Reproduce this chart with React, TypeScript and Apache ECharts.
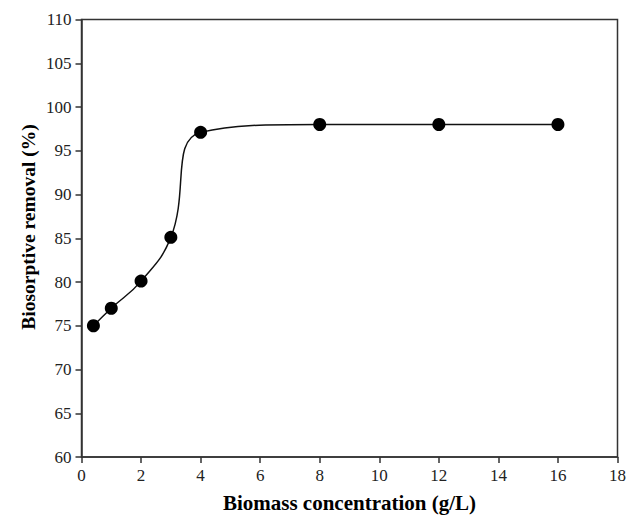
import React, { useEffect, useRef } from "react";
import * as echarts from "echarts";

const xValues = [0.4, 1, 2, 3, 4, 8, 12, 16];
const yValues = [75, 77, 80.1, 85.1, 97.1, 98, 98, 98];
const xAxisTitle = "Biomass concentration (g/L)";
const yAxisTitle = "Biosorptive removal (%)";

export default function App() {
  const ref = useRef<HTMLDivElement>(null);
  useEffect(() => {
    if (!ref.current) return;
    const chart = echarts.init(ref.current, null, { renderer: "svg" });
    const font = "'Liberation Serif', 'Times New Roman', serif";
    chart.setOption({
      animation: false,
      backgroundColor: "#fff",
      grid: {
        left: 73.5,
        right: 2,
        top: 11.5,
        bottom: 49,
        show: true,
        borderColor: "#333",
        borderWidth: 1.5,
        backgroundColor: "transparent",
      },
      graphic: [
        {
          type: "text",
          x: 20,
          y: 219,
          rotation: Math.PI / 2,
          style: {
            text: yAxisTitle,
            fontFamily: font,
            fontSize: 19.5,
            fontWeight: "bold",
            fill: "#000",
            textAlign: "center",
            textVerticalAlign: "middle",
          },
        },
      ],
      xAxis: {
        type: "value",
        min: 0,
        max: 18,
        interval: 2,
        name: xAxisTitle,
        nameLocation: "middle",
        nameGap: 35,
        nameTextStyle: { fontFamily: font, fontSize: 21, fontWeight: "bold", color: "#000" },
        axisLine: { show: true, lineStyle: { color: "#333", width: 1.5 } },
        axisTick: { show: true, inside: false, length: 6, lineStyle: { color: "#333", width: 1.5 } },
        axisLabel: { fontFamily: font, fontSize: 17, color: "#222", margin: 10 },
        splitLine: { show: false },
      },
      yAxis: {
        type: "value",
        min: 60,
        max: 110,
        interval: 5,
        axisLine: { show: true, lineStyle: { color: "#333", width: 1.5 } },
        axisTick: { show: true, inside: false, length: 6, lineStyle: { color: "#333", width: 1.5 } },
        axisLabel: { fontFamily: font, fontSize: 17, color: "#222", margin: 10 },
        splitLine: { show: false },
      },
      series: [
        {
          type: "line",
          data: xValues.map((x, i) => [x, yValues[i]]),
          smooth: 0.45,
          symbol: "circle",
          symbolSize: 13,
          itemStyle: { color: "#000" },
          lineStyle: { color: "#111", width: 1.5 },
        },
      ],
    });
    return () => chart.dispose();
  }, []);
  return <div ref={ref} style={{ width: 621, height: 510 }} />;
}
